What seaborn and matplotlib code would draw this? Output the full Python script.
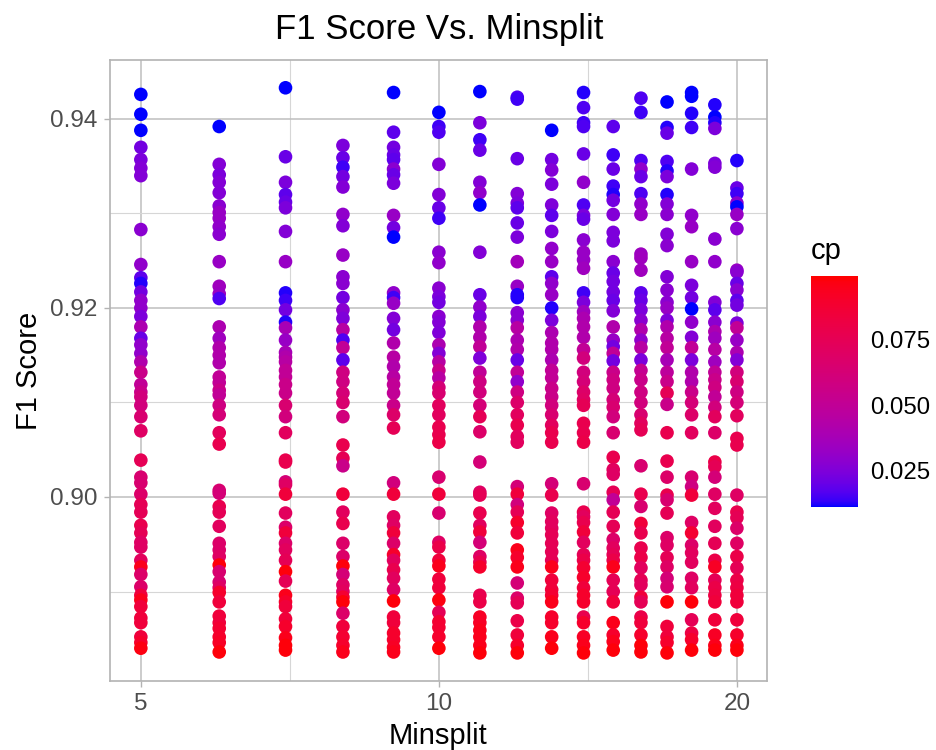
import numpy as np
import pandas as pd
import seaborn as sns
import matplotlib
matplotlib.use('Agg')
import matplotlib.pyplot as plt
from matplotlib.cm import ScalarMappable
from matplotlib.colors import ListedColormap, Normalize

minsplit = [5, 6, 7, 8, 9, 10, 11, 12, 13, 14, 15, 16, 17, 18, 19, 20]

f1_5 = [.9426,.9405,.9388,.9370,.9357,.9348,.9340,.9283,.9246,.9232,
        .9226,.9217,.9208,.9200,.9191,.9180,.9168,.9161,.9152,.9143,
        .9132,.9119,.9111,.9106,.9097,.9085,.9070,.9039,.9021,.9015,
        .9003,.8992,.8984,.8970,.8962,.8952,.8947,.8933,.8926,.8918,
        .8905,.8896,.8891,.8884,.8872,.8867,.8852,.8846,.8840]
cp_5 = [.010,.010,.010,.022,.024,.026,.026,.028,.030,.018,
        .012,.022,.030,.030,.024,.040,.020,.030,.030,.042,
        .055,.050,.055,.060,.060,.065,.070,.075,.065,.065,
        .068,.075,.075,.078,.075,.070,.070,.072,.095,.068,
        .068,.085,.095,.085,.085,.085,.085,.090,.097]

f1_6 = [.9392,.9352,.9341,.9333,.9322,.9308,.9301,.9295,.9286,.9278,
        .9249,.9223,.9215,.9210,.9180,.9168,.9158,.9150,.9142,.9127,
        .9121,.9113,.9108,.9097,.9087,.9068,.9056,.9007,.9004,.8990,
        .8984,.8969,.8951,.8944,.8937,.8928,.8921,.8910,.8904,.8899,
        .8889,.8874,.8867,.8861,.8852,.8846,.8836]
cp_6 = [.010,.026,.024,.026,.026,.028,.032,.032,.030,.028,
        .032,.035,.033,.016,.040,.035,.042,.042,.042,.050,
        .050,.055,.050,.058,.062,.073,.078,.065,.062,.078,
        .075,.072,.068,.068,.070,.098,.065,.065,.070,.090,
        .085,.085,.085,.088,.090,.092,.098]

f1_7 = [.9433,.9360,.9333,.9320,.9312,.9306,.9281,.9249,.9216,.9208,
        .9198,.9185,.9179,.9166,.9153,.9148,.9143,.9134,.9127,.9119,
        .9110,.9097,.9085,.9068,.9039,.9037,.9016,.9013,.9003,.8983,
        .8968,.8962,.8951,.8944,.8933,.8921,.8911,.8896,.8889,.8884,
        .8871,.8863,.8851,.8843,.8838]
cp_7 = [.010,.020,.024,.018,.020,.024,.026,.032,.012,.014,
        .022,.012,.038,.032,.038,.042,.045,.050,.050,.055,
        .055,.065,.060,.072,.078,.078,.062,.070,.085,.072,
        .068,.085,.068,.072,.075,.098,.075,.095,.090,.085,
        .085,.090,.095,.098,.098]

f1_8 = [.9372,.9359,.9349,.9339,.9328,.9299,.9287,.9256,.9233,.9226,
        .9211,.9198,.9189,.9177,.9166,.9158,.9145,.9132,.9122,.9110,
        .9100,.9085,.9055,.9041,.9033,.9003,.8984,.8972,.8951,.8937,
        .8927,.8918,.8907,.8900,.8894,.8889,.8877,.8863,.8852,.8843,
        .8836]
cp_8 = [.024,.020,.014,.022,.026,.030,.026,.032,.028,.028,
        .022,.028,.025,.045,.016,.050,.018,.058,.058,.062,
        .065,.060,.078,.075,.055,.085,.072,.078,.068,.068,
        .098,.062,.070,.072,.088,.098,.068,.085,.088,.090,
        .095]

f1_9 = [.9428,.9386,.9370,.9362,.9357,.9347,.9341,.9332,.9298,.9285,
        .9275,.9216,.9211,.9205,.9189,.9177,.9163,.9148,.9138,.9127,
        .9119,.9110,.9097,.9087,.9073,.9015,.9003,.8979,.8970,.8962,
        .8951,.8939,.8933,.8923,.8914,.8902,.8890,.8873,.8867,.8856,
        .8849,.8841,.8836]
cp_9 = [.010,.018,.022,.020,.018,.028,.020,.024,.032,.022,
        .010,.030,.014,.032,.026,.022,.042,.045,.042,.045,
        .050,.050,.055,.068,.075,.060,.085,.072,.070,.085,
        .068,.090,.072,.078,.072,.070,.098,.085,.085,.090,
        .090,.092,.095]

f1_10 = [.9407,.9392,.9386,.9352,.9320,.9306,.9295,.9259,.9248,.9221,
         .9212,.9206,.9191,.9185,.9174,.9161,.9152,.9143,.9134,.9126,
         .9116,.9110,.9097,.9087,.9074,.9066,.9058,.9021,.9003,.8983,
         .8952,.8947,.8933,.8927,.8913,.8904,.8891,.8878,.8868,.8862,
         .8852,.8840]
cp_10 = [.010,.014,.016,.026,.026,.020,.014,.028,.030,.028,
         .024,.022,.028,.026,.025,.040,.026,.045,.055,.045,
         .062,.065,.072,.072,.078,.078,.080,.065,.085,.065,
         .070,.080,.085,.095,.085,.085,.097,.075,.088,.088,
         .090,.098]

f1_11 = [.9429,.9396,.9378,.9367,.9333,.9322,.9309,.9259,.9214,.9201,
         .9191,.9180,.9169,.9159,.9147,.9132,.9122,.9111,.9097,.9085,
         .9069,.9037,.9005,.9002,.8983,.8970,.8963,.8952,.8937,.8931,
         .8926,.8896,.8889,.8873,.8867,.8859,.8852,.8843,.8835]
cp_11 = [.010,.024,.014,.020,.026,.030,.010,.026,.020,.030,
         .024,.042,.042,.050,.025,.050,.058,.060,.062,.075,
         .068,.062,.070,.075,.078,.072,.085,.062,.070,.078,
         .090,.078,.080,.092,.092,.095,.095,.095,.098]

f1_12 = [.9423,.9421,.9358,.9321,.9311,.9306,.9290,.9275,.9249,.9223,
         .9214,.9211,.9195,.9187,.9179,.9166,.9156,.9145,.9132,.9122,
         .9111,.9100,.9087,.9076,.9064,.9058,.9011,.9003,.8992,.8984,
         .8973,.8962,.8944,.8936,.8926,.8909,.8893,.8888,.8869,.8854,
         .8843,.8835]
cp_12 = [.016,.014,.020,.026,.024,.018,.020,.024,.036,.032,
         .012,.012,.028,.028,.045,.040,.042,.020,.050,.030,
         .058,.068,.072,.078,.072,.072,.062,.085,.060,.075,
         .090,.085,.095,.090,.095,.062,.068,.075,.080,.085,
         .090,.098]

f1_13 = [.9388,.9357,.9346,.9331,.9309,.9298,.9281,.9263,.9249,.9233,
         .9226,.9214,.9200,.9187,.9174,.9163,.9156,.9145,.9134,.9126,
         .9115,.9106,.9097,.9087,.9076,.9068,.9058,.9014,.9002,.8983,
         .8974,.8967,.8960,.8951,.8942,.8933,.8926,.8912,.8902,.8896,
         .8889,.8873,.8867,.8852,.8840]
cp_13 = [.010,.022,.026,.024,.025,.018,.024,.030,.032,.018,
         .030,.032,.012,.024,.040,.042,.042,.040,.050,.050,
         .055,.055,.060,.065,.072,.078,.078,.062,.078,.070,
         .072,.072,.075,.075,.075,.075,.095,.085,.085,.088,
         .095,.090,.090,.095,.098]

f1_14 = [.9428,.9412,.9396,.9392,.9363,.9333,.9309,.9298,.9294,.9272,
         .9259,.9251,.9242,.9216,.9206,.9196,.9189,.9180,.9169,.9156,
         .9147,.9132,.9122,.9111,.9103,.9097,.9078,.9068,.9058,.9014,
         .8984,.8979,.8973,.8963,.8952,.8939,.8933,.8925,.8915,.8904,
         .8896,.8889,.8873,.8867,.8852,.8843,.8835]
cp_14 = [.012,.016,.014,.016,.020,.030,.016,.024,.020,.028,
         .032,.032,.035,.014,.024,.035,.040,.042,.042,.050,
         .060,.060,.062,.068,.070,.075,.078,.078,.080,.065,
         .078,.072,.078,.085,.072,.075,.080,.088,.090,.085,
         .090,.090,.078,.090,.092,.095,.098]

f1_15 = [.9392,.9362,.9347,.9329,.9320,.9314,.9299,.9280,.9271,.9249,
         .9237,.9228,.9217,.9208,.9197,.9180,.9166,.9159,.9152,.9144,
         .9132,.9124,.9115,.9103,.9095,.9085,.9068,.9042,.9029,.9024,
         .9005,.8997,.8984,.8969,.8955,.8946,.8939,.8933,.8926,.8912,
         .8900,.8889,.8867,.8854,.8847,.8838]
cp_15 = [.018,.014,.020,.014,.012,.022,.026,.024,.024,.028,
         .020,.022,.022,.020,.026,.042,.032,.022,.050,.022,
         .055,.058,.058,.062,.065,.060,.065,.078,.072,.070,
         .075,.050,.075,.075,.068,.072,.075,.080,.095,.075,
         .075,.085,.095,.090,.095,.098]

f1_16 = [.9422,.9407,.9356,.9347,.9339,.9321,.9310,.9299,.9257,.9253,
         .9240,.9216,.9208,.9198,.9187,.9177,.9166,.9158,.9145,.9134,
         .9124,.9111,.9100,.9087,.9078,.9071,.9033,.9003,.8990,.8972,
         .8962,.8946,.8936,.8925,.8912,.8907,.8894,.8889,.8873,.8867,
         .8854,.8843,.8836]
cp_16 = [.016,.014,.016,.030,.020,.016,.030,.032,.034,.035,
         .035,.018,.020,.024,.028,.042,.030,.045,.024,.052,
         .055,.058,.060,.065,.072,.075,.065,.078,.065,.085,
         .078,.078,.080,.072,.075,.072,.085,.075,.080,.085,
         .090,.098,.098]

f1_17 = [.9418,.9391,.9385,.9355,.9345,.9339,.9320,.9310,.9299,.9278,
         .9266,.9233,.9219,.9206,.9200,.9187,.9180,.9168,.9158,.9145,
         .9132,.9122,.9110,.9098,.9068,.9038,.9021,.9002,.8997,.8983,
         .8957,.8949,.8936,.8926,.8914,.8905,.8889,.8863,.8852,.8846,
         .8835]
cp_17 = [.010,.012,.020,.016,.012,.024,.012,.026,.028,.026,
         .028,.026,.028,.028,.032,.025,.042,.045,.050,.038,
         .048,.055,.075,.055,.078,.078,.068,.078,.065,.075,
         .068,.070,.075,.070,.062,.065,.098,.085,.085,.090,
         .098]

f1_18 = [.9428,.9424,.9406,.9391,.9347,.9298,.9286,.9249,.9224,.9211,
         .9199,.9185,.9169,.9158,.9145,.9132,.9122,.9111,.9100,.9087,
         .9068,.9021,.9011,.9002,.8973,.8962,.8949,.8941,.8931,.8914,
         .8904,.8889,.8870,.8856,.8849,.8838]
cp_18 = [.010,.010,.012,.014,.026,.030,.032,.032,.024,.022,
         .010,.030,.026,.050,.024,.042,.042,.055,.062,.068,
         .072,.065,.058,.085,.070,.088,.068,.072,.072,.070,
         .072,.098,.075,.082,.090,.098]

f1_19 = [.9415,.9402,.9396,.9390,.9353,.9349,.9273,.9249,.9206,.9198,
         .9185,.9175,.9168,.9156,.9143,.9132,.9124,.9116,.9106,.9095,
         .9085,.9068,.9037,.9032,.9021,.9003,.8988,.8969,.8951,.8933,
         .8926,.8912,.8904,.8896,.8889,.8870,.8854,.8843,.8838]
cp_19 = [.012,.010,.012,.024,.024,.026,.028,.030,.026,.018,
         .028,.040,.035,.045,.035,.050,.055,.058,.050,.060,
         .072,.068,.080,.075,.062,.070,.072,.072,.075,.080,
         .092,.075,.080,.082,.085,.085,.092,.095,.098]

f1_20 = [.9356,.9327,.9321,.9311,.9307,.9299,.9284,.9240,.9238,.9226,
         .9219,.9208,.9203,.9184,.9179,.9166,.9153,.9145,.9132,.9122,
         .9111,.9100,.9086,.9062,.9055,.9002,.8984,.8978,.8967,.8951,
         .8937,.8925,.8912,.8904,.8896,.8889,.8870,.8854,.8843,.8838]
cp_20 = [.012,.020,.014,.028,.010,.032,.028,.032,.028,.020,
         .028,.018,.022,.024,.050,.032,.040,.026,.060,.065,
         .058,.062,.072,.078,.078,.070,.078,.075,.068,.070,
         .080,.075,.080,.082,.085,.085,.085,.090,.095,.098]

f1_cols = [f1_5, f1_6, f1_7, f1_8, f1_9, f1_10, f1_11, f1_12,
           f1_13, f1_14, f1_15, f1_16, f1_17, f1_18, f1_19, f1_20]
cp_cols = [cp_5, cp_6, cp_7, cp_8, cp_9, cp_10, cp_11, cp_12,
           cp_13, cp_14, cp_15, cp_16, cp_17, cp_18, cp_19, cp_20]

cp_limits = (0.0108, 0.0996)
x_ticks = [5, 10, 20]
y_ticks = [0.90, 0.92, 0.94]
cbar_ticks = [0.025, 0.050, 0.075]


# blue to red through Lab, the way the gradient goes in ggplot
def lab_gradient(n=256):
    blue = np.array([32.30, 79.19, -107.86])
    red = np.array([53.24, 80.09, 67.20])
    lab = blue + np.linspace(0, 1, n)[:, None] * (red - blue)
    fy = (lab[:, 0] + 16) / 116
    f = np.c_[fy + lab[:, 1] / 500, fy, fy - lab[:, 2] / 200]
    xyz = np.where(f > 6 / 29, f ** 3, 3 * (6 / 29) ** 2 * (f - 4 / 29))
    xyz = xyz * [0.95047, 1.0, 1.08883]
    m = np.array([[3.2406, -1.5372, -0.4986],
                  [-0.9689, 1.8758, 0.0415],
                  [0.0557, -0.2040, 1.0570]])
    rgb = np.clip(xyz @ m.T, 0, 1)
    rgb = np.where(rgb <= 0.0031308, 12.92 * rgb, 1.055 * rgb ** (1 / 2.4) - 0.055)
    return ListedColormap(np.clip(rgb, 0, 1))


df = pd.concat([pd.DataFrame({'minsplit': m, 'f1': f, 'cp': c})
                for m, f, c in zip(minsplit, f1_cols, cp_cols)], ignore_index=True)

sns.set_style('white')
plt.rcParams['font.family'] = ['Liberation Sans', 'DejaVu Sans']

W, H = 937, 750
fig = plt.figure(figsize=(W / 100, H / 100), dpi=100)
ax = fig.add_axes([110 / W, 1 - 681 / H, 657 / W, 621 / H])
cmap = lab_gradient()

sns.scatterplot(data=df, x='minsplit', y='f1', hue='cp', palette=cmap, hue_norm=cp_limits,
                s=96, linewidth=0, legend=False, ax=ax)

ax.set_xscale('log')
ax.set_xlim(4.654, 21.45)
ax.set_ylim(0.88053, 0.94624)
ax.set_xticks(x_ticks)
ax.set_xticklabels([str(t) for t in x_ticks])
ax.set_xticks([7.07, 14.14], minor=True)
ax.set_xticklabels(['', ''], minor=True)
ax.set_yticks(y_ticks)
ax.set_yticklabels(['%.2f' % t for t in y_ticks])
ax.set_yticks([0.89, 0.91, 0.93], minor=True)

ax.set_axisbelow(True)
ax.grid(True, which='major', color='#bebebe', linewidth=1.1)
ax.grid(True, which='minor', color='#d6d6d6', linewidth=0.8)
ax.tick_params(which='major', length=4, width=1, color='#b3b3b3', labelcolor='#4d4d4d',
               labelsize=17.5, pad=5, bottom=True, left=True)
ax.tick_params(which='minor', length=0)
for s in ax.spines.values():
    s.set_color('#b3b3b3')
    s.set_linewidth(1.2)

ax.set_xlabel('Minsplit', fontsize=21, color='black')
ax.xaxis.set_label_coords(0.5, -(736 - 681) / 621, transform=ax.transAxes)
ax.xaxis.label.set_va('center')
ax.set_ylabel('F1 Score', fontsize=21, color='black')
ax.yaxis.set_label_coords((29 - 110) / 657, 0.5)
ax.yaxis.label.set_va('center')
fig.text(439 / W, 1 - 29 / H, 'F1 Score Vs. Minsplit', fontsize=25, ha='center', va='center', color='black')

# colour bar on the right
cax = fig.add_axes([811 / W, 1 - 507 / H, 47 / W, 231 / H])
sm = ScalarMappable(norm=Normalize(*cp_limits), cmap=cmap)
cbar = fig.colorbar(sm, cax=cax, ticks=cbar_ticks)
cbar.ax.set_yticklabels(['%.3f' % t for t in cbar_ticks])
cbar.outline.set_visible(False)
cbar.ax.tick_params(direction='in', length=7, width=0.8, color='white', left=True, right=True,
                    labelsize=17.3, labelcolor='black', pad=9)
fig.text(811 / W, 1 - 251 / H, 'cp', fontsize=21, ha='left', va='center', color='black')

fig.savefig('out.png', dpi=100)
